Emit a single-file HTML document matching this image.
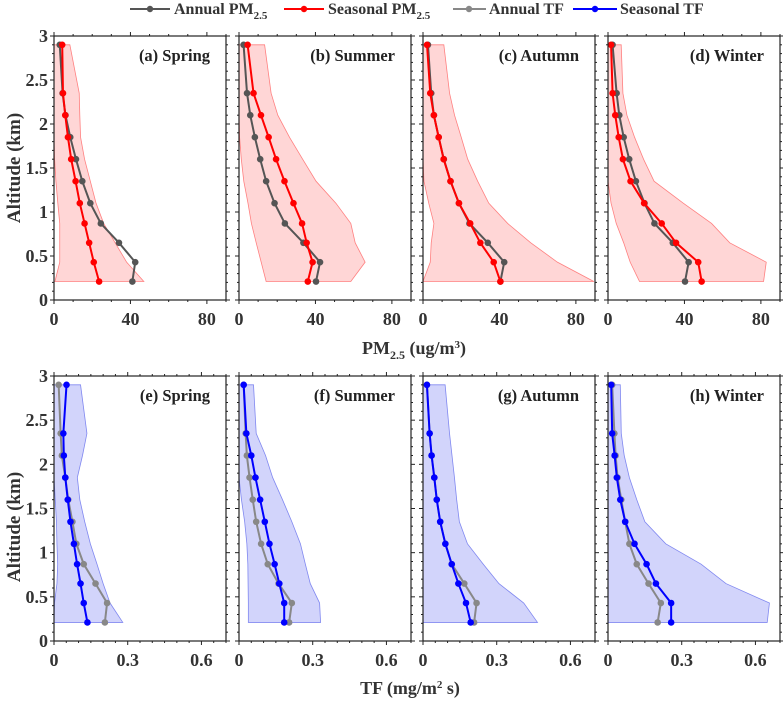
<!DOCTYPE html>
<html><head><meta charset="utf-8"><style>
html,body{margin:0;padding:0;background:#fff;}
svg{display:block;font-family:"Liberation Serif","Times New Roman",serif;font-weight:bold;}
</style></head><body>
<svg id="chart" width="783" height="701" viewBox="0 0 783 701" xmlns="http://www.w3.org/2000/svg">
<g id="legend">
 <g><line x1="130" y1="9" x2="170" y2="9" stroke="#555" stroke-width="2"/><circle cx="150" cy="9" r="3.2" fill="#555"/><text x="174" y="14" font-size="16" fill="#333">Annual PM<tspan font-size="11" dy="5">2.5</tspan></text></g>
 <g><line x1="284" y1="9" x2="324" y2="9" stroke="#f00" stroke-width="2"/><circle cx="304" cy="9" r="3.2" fill="#f00"/><text x="328" y="14" font-size="16" fill="#333">Seasonal PM<tspan font-size="11" dy="5">2.5</tspan></text></g>
 <g><line x1="453" y1="9" x2="486" y2="9" stroke="#888" stroke-width="2"/><circle cx="469" cy="9" r="3.2" fill="#888"/><text x="489" y="14" font-size="16" fill="#333">Annual TF</text></g>
 <g><line x1="573" y1="9" x2="617" y2="9" stroke="#00f" stroke-width="2"/><circle cx="595" cy="9" r="3.2" fill="#00f"/><text x="620" y="14" font-size="16" fill="#333">Seasonal TF</text></g>
</g>
<text transform="translate(20,168) rotate(-90)" text-anchor="middle" font-size="19" fill="#333">Altitude  (km)</text>
<text transform="translate(20,527) rotate(-90)" text-anchor="middle" font-size="19" fill="#333">Altitude  (km)</text>
<text x="414" y="354" text-anchor="middle" font-size="18" fill="#333">PM<tspan font-size="12" dy="5">2.5</tspan><tspan dy="-5"> (ug/m</tspan><tspan font-size="11" dy="-6">3</tspan><tspan dy="6">)</tspan></text>
<text x="410" y="694" text-anchor="middle" font-size="18" fill="#333">TF (mg/m<tspan font-size="11" dy="-6">2</tspan><tspan dy="6"> s)</tspan></text>
</svg>
<script>
// shared altitudes (km)
const altitudes = [2.9, 2.35, 2.1, 1.85, 1.6, 1.35, 1.1, 0.87, 0.65, 0.43, 0.21];
const pmTicks = [0, 40, 80];
const tfTicks = [0, 0.3, 0.6];
const altTicks = [0, 0.5, 1, 1.5, 2, 2.5, 3];
const altTickLabels = ["0", "0.5", "1", "1.5", "2", "2.5", "3"];
// PM2.5 panels
const pmAnnual = [
 [3,4.5,6,8.5,11.5,14.8,19,24.5,34,42.5,41],
 [2.4,4.2,5.9,8.3,11.1,14.2,18.6,24,33.7,42.4,40.3],
 [2.6,4.3,5.7,8.2,10.9,14.4,18.8,24.3,33.9,42.5,40.5],
 [2.4,4.5,5.9,8.2,11.1,14.6,19.1,24.3,33.9,42.2,40.3]];
const pmSeasonal = [
 [4.3,4.7,5.9,7.3,9,11.3,13.5,16,18.4,20.8,23.6],
 [4.5,7.6,11.5,15.5,19.4,23.8,28.5,33,35.4,38.5,36],
 [2.1,3.8,5.7,8.2,10.8,14.4,18.8,24.7,30,37,40.5],
 [1.6,2.4,3.8,5.6,7.8,11.8,18.9,28.1,35.6,47.2,49]];
const pmLow = [
 [0,0,0,0,0.3,1,2,3,3,3,0.5],
 [0,0,0,0.3,1.2,2.5,4.7,6.5,9,11.6,14.2],
 [0,0,0,0,0,0.5,3,5.7,4.3,3.8,0],
 [0,0,0,0,0,0,1.6,4.3,8.2,11.6,16.5]];
const pmHigh = [
 [8.3,13.2,13.5,13.9,16,19,22,26,32,38,47],
 [13.4,16.8,20.3,26.4,33.3,40.3,50.7,58.5,60.8,66,58.5],
 [10.9,13.9,16.5,20,23.4,28.6,34.4,44.3,56.4,70.3,89.4],
 [6.9,7.8,9.9,13.9,18.6,24.1,39.4,54.2,63.7,82.8,81.4]];
// TF panels
const tfAnnual = [
 [0.019,0.027,0.032,0.046,0.058,0.075,0.091,0.121,0.169,0.216,0.207],
 [0.019,0.027,0.032,0.043,0.056,0.07,0.09,0.117,0.161,0.215,0.204],
 [0.016,0.027,0.035,0.046,0.056,0.07,0.091,0.117,0.168,0.218,0.208],
 [0.017,0.026,0.031,0.039,0.054,0.07,0.087,0.117,0.165,0.215,0.202]];
const tfSeasonal = [
 [0.051,0.038,0.040,0.046,0.056,0.067,0.081,0.094,0.108,0.121,0.136],
 [0.019,0.03,0.05,0.067,0.086,0.105,0.124,0.145,0.164,0.184,0.184],
 [0.016,0.027,0.035,0.046,0.056,0.07,0.091,0.117,0.144,0.175,0.194],
 [0.013,0.017,0.027,0.036,0.05,0.07,0.108,0.157,0.195,0.257,0.257]];
const tfLow = [
 [0,0,0,0,0.005,0.01,0.012,0.015,0.012,0.002,0],
 [0,0,0,0,0.01,0.023,0.032,0.036,0.037,0.038,0.038],
 [0,0,0,0,0,0,0,0,0,0,0],
 [0,0,0,0,0,0,0,0,0,0,0]];
const tfHigh = [
 [0.108,0.134,0.116,0.095,0.105,0.125,0.148,0.175,0.2,0.228,0.28],
 [0.059,0.07,0.108,0.137,0.177,0.215,0.25,0.27,0.29,0.328,0.332],
 [0.09,0.108,0.118,0.128,0.137,0.148,0.181,0.245,0.309,0.41,0.466],
 [0.05,0.054,0.066,0.087,0.117,0.15,0.235,0.379,0.48,0.657,0.648]];
const pmLabels = ["(a)  Spring","(b)  Summer","(c)  Autumn","(d)  Winter"];
const tfLabels = ["(e)  Spring","(f)  Summer","(g)  Autumn","(h)  Winter"];
const seasons = ["spring","summer","autumn","winter"];

const NS = "http://www.w3.org/2000/svg";
const svg = document.getElementById('chart');
const panelLefts = [54, 239, 423, 608];
const PW = 172;
function mk(tag, attrs, parent){ const e=document.createElementNS(NS,tag); for(const k in attrs) e.setAttribute(k,attrs[k]); parent.appendChild(e); return e; }

function drawPanel(idx, row){
  const L = panelLefts[idx], R = L + PW;
  const top = row===0 ? 36 : 376, bot = row===0 ? 300 : 641;
  const xmax = row===0 ? 90 : 0.7;
  const xs = v => L + v / xmax * PW;
  const ys = a => bot - a / 3 * (bot - top);
  const g = mk('g', {}, svg);
  
  
  const low = row===0 ? pmLow[idx] : tfLow[idx];
  const high = row===0 ? pmHigh[idx] : tfHigh[idx];
  const ann = row===0 ? pmAnnual[idx] : tfAnnual[idx];
  const sea = row===0 ? pmSeasonal[idx] : tfSeasonal[idx];
  const fill = row===0 ? '#ffd6d6' : '#d2d4fb';
  const edge = row===0 ? '#ff8080' : '#8088f0';
  let pts = altitudes.map((a,i)=>xs(high[i])+','+ys(a));
  pts = pts.concat(altitudes.slice().reverse().map((a,j)=>{const i=altitudes.length-1-j; return xs(low[i])+','+ys(a);}));
  const band = mk('polygon', {points: pts.join(' '), fill: fill, stroke: edge, 'stroke-width': 0.8}, g);
  
  
  const series = [[ann, row===0?'#555':'#888', 'annual-line'], [sea, row===0?'#f00':'#00f', 'seasonal-line']];
  series.forEach(s=>{
    const line = mk('polyline', {points: altitudes.map((a,i)=>xs(s[0][i])+','+ys(a)).join(' '), fill:'none', stroke:s[1], 'stroke-width':2}, g);
    
    
    altitudes.forEach((a,i)=>{
      const c = mk('circle', {cx: xs(s[0][i]), cy: ys(a), r: 3.3, fill: s[1]}, g);
      
      
    });
  });
  const fr = mk('rect', {x:L, y:top, width:PW, height:bot-top, fill:'none', stroke:'#222', 'stroke-width':1.2}, g);
  
  
  for (let k=0;k<=30;k++){
    const a=k/10, y=ys(a), len = (k%5===0)?4:2;
    mk('line',{x1:L-len,y1:y,x2:L,y2:y,stroke:'#222','stroke-width':1},g);
    mk('line',{x1:R,y1:y,x2:R+len,y2:y,stroke:'#222','stroke-width':1},g);
  }
  if (idx===0){
    altTicks.forEach((a,i)=>{
      const t = mk('text',{x:L-6,y:ys(a)+6,'text-anchor':'end','font-size':18,fill:'#333'},g);
      t.textContent = altTickLabels[i];
      
      
    });
  }
  const minor = row===0 ? 10 : 0.05;
  const nMinor = Math.floor(xmax/minor + 1e-6);
  for (let k=0;k<=nMinor;k++){
    const v=k*minor, x=xs(v);
    const major = row===0 ? (k%4===0) : (k%6===0);
    const len = major?4:2;
    mk('line',{x1:x,y1:bot,x2:x,y2:bot+len,stroke:'#222','stroke-width':1},g);
    mk('line',{x1:x,y1:top-len,x2:x,y2:top,stroke:'#222','stroke-width':1},g);
  }
  const ticks = row===0 ? pmTicks : tfTicks;
  ticks.forEach(v=>{
    const t = mk('text',{x:xs(v),y:bot+25,'text-anchor':'middle','font-size':18,fill:'#333'},g);
    t.textContent = String(v);
    
    
  });
  const lab = mk('text',{x:R-16,y:top+25,'text-anchor':'end','font-size':16.5,fill:'#222'},g);
  lab.textContent = row===0 ? pmLabels[idx] : tfLabels[idx];
  
  
  lab.setAttribute('xml:space','preserve');
}
for (let i=0;i<4;i++){ drawPanel(i,0); drawPanel(i,1); }
</script>
</body></html>
